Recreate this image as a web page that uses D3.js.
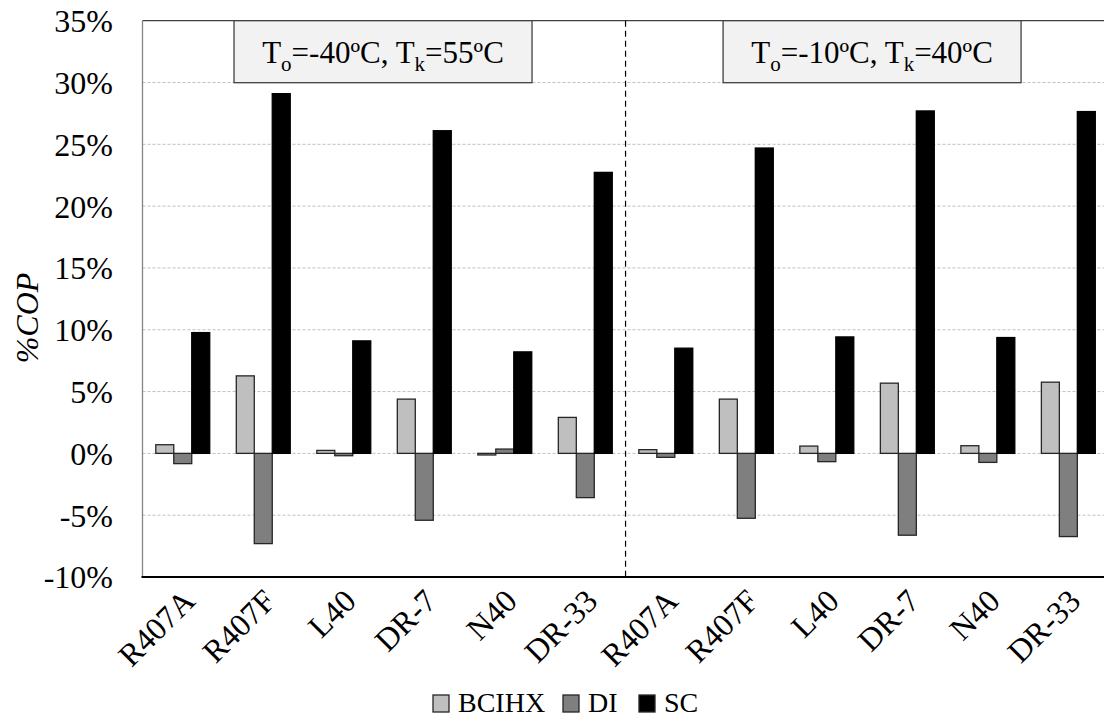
<!DOCTYPE html>
<html>
<head>
<meta charset="utf-8">
<script src="https://cdn.jsdelivr.net/npm/d3@7/dist/d3.min.js"></script>
<style>
  html, body { margin: 0; padding: 0; background: #fff; }
</style>
</head>
<body>
<svg id="chart" width="1104" height="722" style="font-family: 'Liberation Serif', 'Times New Roman', serif;"></svg>
<script>
// ---- data ----
const categories = ["R407A", "R407F", "L40", "DR-7", "N40", "DR-33",
                    "R407A", "R407F", "L40", "DR-7", "N40", "DR-33"];
const seriesNames = ["BCIHX", "DI", "SC"];
const BCIHX = [0.70, 6.27, 0.24, 4.39, -0.13, 2.91, 0.30, 4.39, 0.59, 5.68, 0.62, 5.76];
const DI    = [-0.83, -7.30, -0.19, -5.41, 0.35, -3.58, -0.32, -5.25, -0.67, -6.62, -0.73, -6.73];
const SC    = [9.77, 29.1, 9.10, 26.1, 8.21, 22.73, 8.51, 24.7, 9.42, 27.7, 9.37, 27.65];
const yTicks = [-10, -5, 0, 5, 10, 15, 20, 25, 30, 35];
const panelLabels = [
  { base1: "T", sub1: "o", mid: "=-40ºC, T", sub2: "k", end: "=55ºC" },
  { base1: "T", sub1: "o", mid: "=-10ºC, T", sub2: "k", end: "=40ºC" }
];
const seriesValues = [BCIHX, DI, SC];
const seriesFill = ["#bfbfbf", "#7f7f7f", "#000000"];
const seriesStroke = ["#262626", "#262626", "#000000"];

// ---- layout ----
const FONT = "'Liberation Serif', 'Times New Roman', serif";
const svg = d3.select("#chart");
const pLeft = 142.5, pRight = 1108.6, pTop = 20.7, pBottom = 577;

const idx = categories.map((d, i) => i);
const x = d3.scaleBand().domain(idx).range([pLeft, pRight])
  .paddingInner(0.33).paddingOuter(0.165);
const xs = d3.scaleBand().domain(d3.range(seriesNames.length)).range([0, x.bandwidth()]);
const y = d3.scaleLinear().domain([-10, 35]).range([pBottom, pTop]);

// gridlines
svg.append("g").selectAll("line").data(yTicks.filter(t => t > -10 && t < 35)).join("line")
  .attr("x1", pLeft).attr("x2", pRight)
  .attr("y1", d => y(d)).attr("y2", d => y(d))
  .attr("stroke", "#bfbfbf").attr("stroke-width", 1).attr("stroke-dasharray", "3,2");

// top border
svg.append("line").attr("x1", pLeft).attr("x2", pRight).attr("y1", pTop).attr("y2", pTop)
  .attr("stroke", "#404040").attr("stroke-width", 1.3);

// bars
const g = svg.append("g");
seriesValues.forEach((vals, s) => {
  g.append("g").selectAll("rect").data(vals).join("rect")
    .attr("x", (d, i) => x(i) + xs(s))
    .attr("width", xs.bandwidth())
    .attr("y", d => y(Math.max(0, d)))
    .attr("height", d => Math.abs(y(d) - y(0)))
    .attr("fill", seriesFill[s])
    .attr("stroke", seriesStroke[s])
    .attr("stroke-width", 1.3);
});

// divider
const divX = (x(5) + x.bandwidth() + x(6)) / 2;
svg.append("line").attr("x1", divX).attr("x2", divX).attr("y1", pTop).attr("y2", pBottom)
  .attr("stroke", "#000").attr("stroke-width", 1.2).attr("stroke-dasharray", "6,4");

// left axis line
svg.append("line").attr("x1", pLeft).attr("x2", pLeft).attr("y1", pTop).attr("y2", pBottom)
  .attr("stroke", "#868686").attr("stroke-width", 1.3);

// y axis labels
const yAxis = d3.axisLeft(y).tickValues(yTicks).tickSize(0).tickPadding(0)
  .tickFormat(d => d + "%");
const ya = svg.append("g").attr("transform", `translate(${113},0)`).call(yAxis)
  .attr("font-family", FONT);
ya.select(".domain").remove();
ya.selectAll("text").attr("font-size", 32).attr("font-family", FONT).attr("dy", "0.34em").attr("fill", "#000");

// bottom axis
const xAxis = d3.axisBottom(x).tickSize(0).tickFormat(i => categories[i]);
const xa = svg.append("g").attr("transform", `translate(0,${pBottom})`).call(xAxis)
  .attr("font-family", FONT);
xa.select(".domain").remove();
xa.selectAll("text")
  .attr("font-size", 32)
  .attr("font-family", FONT)
  .attr("fill", "#000")
  .attr("text-anchor", "end")
  .attr("dy", 0).attr("y", 0)
  .attr("transform", `translate(14,26) rotate(-45)`);
svg.append("line").attr("x1", pLeft - 1).attr("x2", pRight).attr("y1", pBottom).attr("y2", pBottom)
  .attr("stroke", "#000").attr("stroke-width", 2);

// y axis title
svg.append("text")
  .attr("transform", `translate(38,318) rotate(-90)`)
  .attr("text-anchor", "middle")
  .attr("font-family", FONT)
  .attr("font-size", 32)
  .attr("font-style", "italic")
  .text("%COP");

// panel boxes
const boxW = 298, boxH = 62;
const boxCenters = [(x(0) + x(5) + x.bandwidth()) / 2 - 1, (x(6) + x(11) + x.bandwidth()) / 2 + 5];
panelLabels.forEach((p, k) => {
  const cx = boxCenters[k];
  svg.append("rect").attr("x", cx - boxW / 2).attr("y", pTop).attr("width", boxW).attr("height", boxH)
    .attr("fill", "#f2f2f2").attr("stroke", "#404040").attr("stroke-width", 1.3);
  const t = svg.append("text").attr("x", cx).attr("y", 63).attr("text-anchor", "middle")
    .attr("font-family", FONT).attr("font-size", 31);
  t.append("tspan").text(p.base1);
  t.append("tspan").attr("dy", 8).attr("font-size", 21).text(p.sub1);
  t.append("tspan").attr("dy", -8).text(p.mid);
  t.append("tspan").attr("dy", 8).attr("font-size", 21).text(p.sub2);
  t.append("tspan").attr("dy", -8).text(p.end);
});

// legend
const legendItems = [
  { name: "BCIHX", sx: 433 },
  { name: "DI", sx: 563 },
  { name: "SC", sx: 639 }
];
const lg = svg.append("g");
legendItems.forEach((it, s) => {
  lg.append("rect").attr("x", it.sx).attr("y", 695).attr("width", 16).attr("height", 17)
    .attr("fill", seriesFill[s]).attr("stroke", "#262626").attr("stroke-width", 1.3);
  lg.append("text").attr("x", it.sx + 25).attr("y", 712)
    .attr("font-family", FONT).attr("font-size", 28).text(it.name);
});
</script>
</body>
</html>
